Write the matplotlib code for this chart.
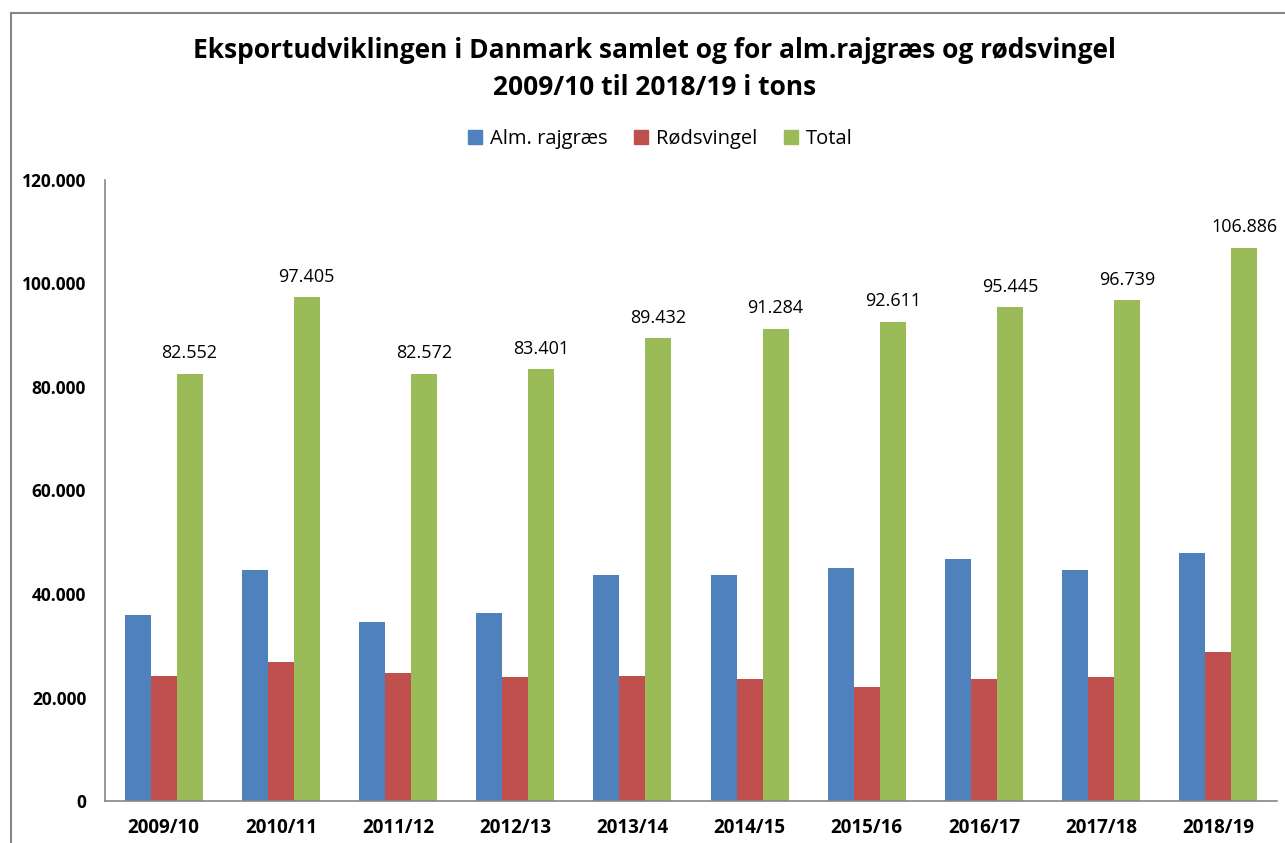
import matplotlib
matplotlib.use("Agg")
import matplotlib.pyplot as plt
from matplotlib.lines import Line2D
import numpy as np

categories = ["2009/10", "2010/11", "2011/12", "2012/13", "2013/14",
              "2014/15", "2015/16", "2016/17", "2017/18", "2018/19"]
alm_rajgraes = [35900, 44600, 34600, 36300, 43700, 43700, 45000, 46800, 44600, 47900]
roedsvingel = [24200, 26900, 24700, 24000, 24200, 23600, 22000, 23600, 24000, 28800]
total = [82552, 97405, 82572, 83401, 89432, 91284, 92611, 95445, 96739, 106886]
series_names = ["Alm. rajgræs", "Rødsvingel", "Total"]
colors = ["#4F81BD", "#C0504D", "#9BBB59"]
yticks = [0, 20000, 40000, 60000, 80000, 100000, 120000]

def fmt(v):
    return f"{v:,.0f}".replace(",", ".")

plt.rcParams['font.family'] = ['Open Sans', 'DejaVu Sans']

fig = plt.figure(figsize=(12.85, 8.43), dpi=100)
ax = fig.add_axes([0.0817, 0.0498, 0.9121, 0.7367])

x = np.arange(len(categories))
w = 0.222
for i, (vals, name, c) in enumerate(zip([alm_rajgraes, roedsvingel, total], series_names, colors)):
    bars = ax.bar(x + (i - 1) * w, vals, width=w, color=c, label=name, zorder=2)
    if i == 2:
        for b, v in zip(bars, vals):
            ax.text(b.get_x() + b.get_width() / 2, v + 2200, fmt(v),
                    ha="center", va="bottom", fontsize=13, color="black")

ax.set_xlim(-0.5, len(categories) - 0.5)
ax.set_ylim(0, 120000)
ax.set_yticks(yticks)
ax.set_yticklabels([fmt(v) for v in yticks], fontweight="bold", fontsize=12.5)
ax.set_xticks(x)
ax.set_xticklabels(categories, fontweight="bold", fontsize=13.5)
ax.tick_params(axis="both", length=0)
ax.tick_params(axis="y", pad=13.5)
ax.tick_params(axis="x", pad=12)
for s in ["top", "right"]:
    ax.spines[s].set_visible(False)
for s in ["left", "bottom"]:
    ax.spines[s].set_color("#868686")
    ax.spines[s].set_linewidth(1.2)

fig.text(0.509, 0.94, "Eksportudviklingen i Danmark samlet og for alm.rajgræs og rødsvingel",
         ha="center", va="center", fontsize=19, fontweight="bold")
fig.text(0.509, 0.896, "2009/10 til 2018/19 i tons",
         ha="center", va="center", fontsize=19, fontweight="bold")

handles = [plt.Rectangle((0, 0), 1, 1, color=c) for c in colors]
fig.legend(handles, series_names, loc="center", bbox_to_anchor=(0.514, 0.835), ncol=3,
           frameon=False, fontsize=14.5, handlelength=0.7, handleheight=0.7,
           columnspacing=1.3, handletextpad=0.4)

# outer chart border (cropped screenshot)
fig.add_artist(Line2D([11 / 1285, 1.0], [1 - 13 / 843, 1 - 13 / 843], color="#868686", lw=1.5, transform=fig.transFigure))
fig.add_artist(Line2D([11 / 1285, 11 / 1285], [0.0, 1 - 13 / 843], color="#868686", lw=1.5, transform=fig.transFigure))

fig.savefig("out.png", dpi=100)
